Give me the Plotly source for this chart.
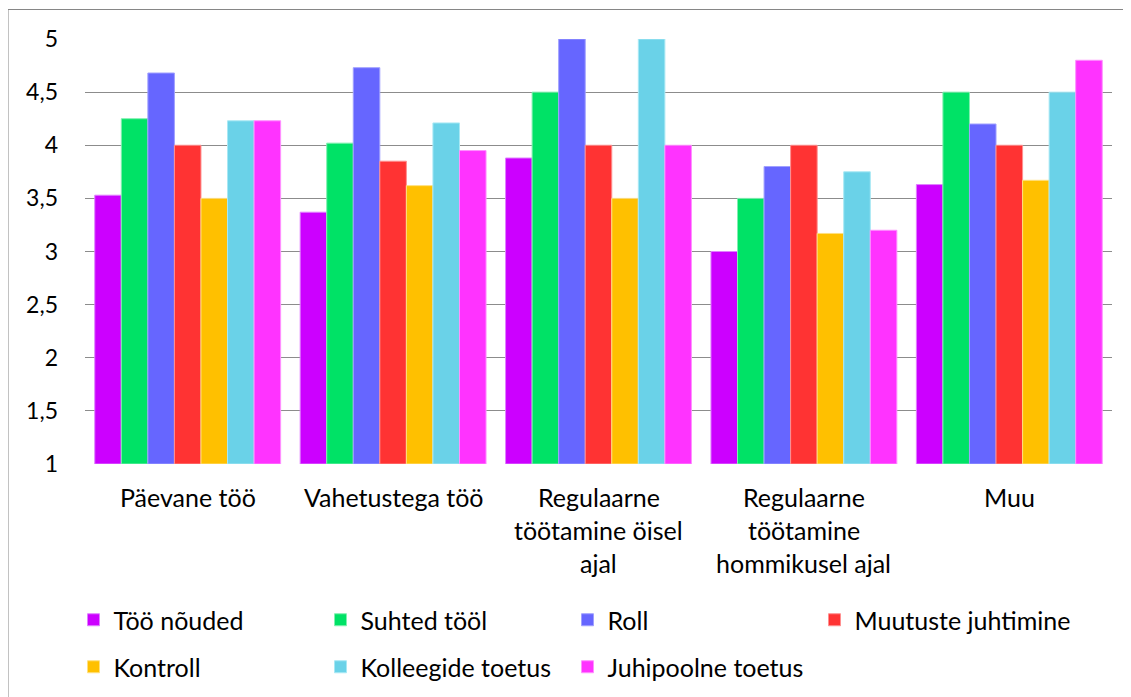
import plotly.graph_objects as go

categories = ["Päevane töö", "Vahetustega töö", "Regulaarne\ntöötamine öisel\najal",
              "Regulaarne\ntöötamine\nhommikusel ajal", "Muu"]
series_names = ["Töö nõuded", "Suhted tööl", "Roll", "Muutuste juhtimine",
                "Kontroll", "Kolleegide toetus", "Juhipoolne toetus"]
too_nouded = [3.53, 3.37, 3.88, 3.00, 3.63]
suhted_tool = [4.25, 4.02, 4.50, 3.50, 4.50]
roll = [4.68, 4.73, 5.00, 3.80, 4.20]
muutuste_juhtimine = [4.00, 3.85, 4.00, 4.00, 4.00]
kontroll = [3.50, 3.62, 3.50, 3.17, 3.67]
kolleegide_toetus = [4.23, 4.21, 5.00, 3.75, 4.50]
juhipoolne_toetus = [4.23, 3.95, 4.00, 3.20, 4.80]
y_tickvals = [1, 1.5, 2, 2.5, 3, 3.5, 4, 4.5, 5]
y_ticktext = ["1", "1,5", "2", "2,5", "3", "3,5", "4", "4,5", "5"]

values = [too_nouded, suhted_tool, roll, muutuste_juhtimine, kontroll,
          kolleegide_toetus, juhipoolne_toetus]
colors = ["#CC00FF", "#00E266", "#6666FF", "#FF3333", "#FFC000", "#6AD2E8", "#FF33FF"]
line_colors = ["#E080FF", "#80F0B0", "#A0A0FF", "#FF9090", "#FFE080", "#A8E8F4", "#FF90FF"]
legend_of = ["legend", "legend", "legend", "legend3", "legend2", "legend2", "legend2"]

FONT = "Lato, Open Sans, sans-serif"
FS = 25
W, H = 1123, 689  # page has an 8px body margin
fig = go.Figure()
for i, (name, vals) in enumerate(zip(series_names, values)):
    fig.add_trace(go.Bar(
        name=name, x=list(range(len(categories))), y=[v - 1 for v in vals], base=1,
        marker=dict(color=colors[i], line=dict(color=line_colors[i], width=1)),
        legend=legend_of[i],
        hoverinfo="skip",
    ))

annotations = []
for ci, cat in enumerate(categories):
    for li, line in enumerate(cat.split("\n")):
        annotations.append(dict(
            x=ci, y=0, xref="x", yref="paper", text=line, showarrow=False,
            xanchor="center", yanchor="middle", yshift=-(33 + 33 * li),
            font=dict(family=FONT, size=FS, color="#000000"),
        ))

legend_common = dict(orientation="h", xref="container", yref="container",
                     xanchor="left", yanchor="middle",
                     entrywidth=202, entrywidthmode="pixels",
                     font=dict(family=FONT, size=FS, color="#000000"),
                     traceorder="normal", bgcolor="rgba(0,0,0,0)")

fig.update_layout(
    width=W, height=H,
    margin=dict(l=77, r=19, t=31, b=233, autoexpand=False),
    paper_bgcolor="white", plot_bgcolor="white",
    barmode="group", bargap=0.095, bargroupgap=0,
    font=dict(family=FONT, size=FS, color="#000000"),
    xaxis=dict(range=[-0.5, len(categories) - 0.5], showticklabels=False,
               showgrid=False, zeroline=False, showline=False, ticks=""),
    yaxis=dict(range=[1, 5], tickvals=y_tickvals, ticktext=y_ticktext,
               showgrid=True, gridcolor="#8C8C8C", gridwidth=1, zeroline=False,
               showline=False, ticks="", ticklabelstandoff=26,
               tickfont=dict(family=FONT, size=23, color="#000000")),
    legend=dict(legend_common, x=65.5 / W, y=1 - 612 / H),
    legend2=dict(legend_common, x=65.5 / W, y=1 - 659 / H),
    legend3=dict(legend_common, x=806.5 / W, y=1 - 612 / H, entrywidth=0),
    annotations=annotations,
    shapes=[dict(type="rect", xref="paper", yref="paper",
                 x0=-77 / 1027, x1=1.05, y0=-0.7, y1=(456 - 1.5) / 425,
                 line=dict(color="#868686", width=1), fillcolor="rgba(0,0,0,0)",
                 layer="below")],
)

fig.write_html("out.html")
